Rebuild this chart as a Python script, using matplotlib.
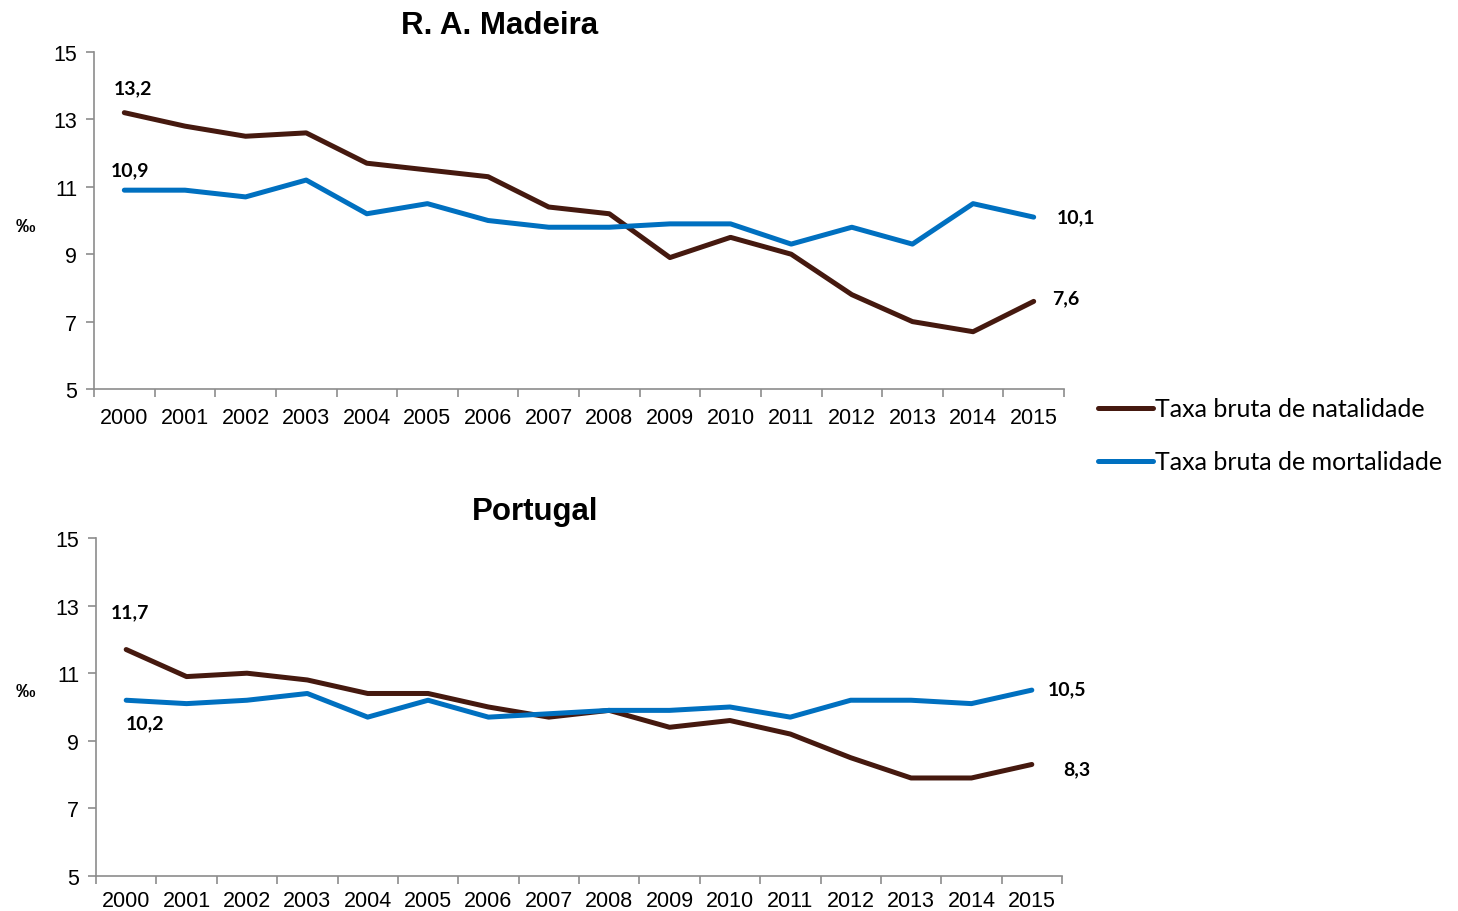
import numpy as np
import matplotlib
matplotlib.use('Agg')
import matplotlib.pyplot as plt
from matplotlib.lines import Line2D

# Data
years = ['2000', '2001', '2002', '2003', '2004', '2005', '2006', '2007',
         '2008', '2009', '2010', '2011', '2012', '2013', '2014', '2015']

madeira_natal = [13.2, 12.8, 12.5, 12.6, 11.7, 11.5, 11.3, 10.4,
                 10.2, 8.9, 9.5, 9.0, 7.8, 7.0, 6.7, 7.6]
madeira_mort = [10.9, 10.9, 10.7, 11.2, 10.2, 10.5, 10.0, 9.8,
                9.8, 9.9, 9.9, 9.3, 9.8, 9.3, 10.5, 10.1]

portugal_natal = [11.7, 10.9, 11.0, 10.8, 10.4, 10.4, 10.0, 9.7,
                  9.9, 9.4, 9.6, 9.2, 8.5, 7.9, 7.9, 8.3]
portugal_mort = [10.2, 10.1, 10.2, 10.4, 9.7, 10.2, 9.7, 9.8,
                 9.9, 9.9, 10.0, 9.7, 10.2, 10.2, 10.1, 10.5]

labels = ['Taxa bruta de natalidade', 'Taxa bruta de mortalidade']

BROWN = '#45190f'
BLUE = '#0070c0'
GRAY = '#8c8c8c'

plt.rcParams['font.family'] = ['Liberation Sans', 'DejaVu Sans']

fig = plt.figure(figsize=(14.58, 9.12), dpi=100)
ax1 = fig.add_axes([94 / 1458, 1 - 390 / 912, 970 / 1458, 337 / 912])
ax2 = fig.add_axes([96 / 1458, 1 - 877 / 912, 966 / 1458, 338 / 912])


def style_axis(ax, title, xpad):
    x = np.arange(len(years))
    ax.set_xlim(-0.5, len(years) - 0.5)
    ax.set_ylim(5, 15)
    ax.set_yticks([5, 7, 9, 11, 13, 15])
    ax.set_xticks(x)
    ax.set_xticklabels(years)
    ax.set_xticks(np.arange(-0.5, len(years), 1), minor=True)
    ax.tick_params(axis='x', which='major', length=0, pad=xpad, labelsize=15.5)
    ax.tick_params(axis='x', which='minor', length=6, color=GRAY, width=1.2)
    ax.tick_params(axis='y', length=6, color=GRAY, width=1.2, labelsize=15.5, pad=6)
    for s in ['top', 'right']:
        ax.spines[s].set_visible(False)
    for s in ['left', 'bottom']:
        ax.spines[s].set_color(GRAY)
        ax.spines[s].set_linewidth(1.2)
    ax.set_title(title, fontsize=22.5, fontweight='bold', pad=14)
    return x


lab_font = dict(fontsize=14, fontweight='bold', family=['Lato', 'DejaVu Sans'],
                ha='center', va='center', textcoords='offset pixels')

# Top: Madeira
x = style_axis(ax1, 'R. A. Madeira', 13)
ax1.title.set_position((0.418, 1))
ax1.plot(x, madeira_natal, color=BROWN, lw=3.6, solid_capstyle='round')
ax1.plot(x, madeira_mort, color=BLUE, lw=3.6, solid_capstyle='round')
ax1.annotate('13,2', (x[0], madeira_natal[0]), xytext=(9, 25), **lab_font)
ax1.annotate('10,9', (x[0], madeira_mort[0]), xytext=(6, 20), **lab_font)
ax1.annotate('10,1', (x[-1], madeira_mort[-1]), xytext=(42, 0), **lab_font)
ax1.annotate('7,6', (x[-1], madeira_natal[-1]), xytext=(32, 4), **lab_font)
fig.text(25 / 1458, 1 - 227 / 912, '‰', fontsize=14, fontweight='bold',
         ha='center', va='center')

# Bottom: Portugal
x = style_axis(ax2, 'Portugal', 10)
ax2.title.set_position((0.455, 1))
ax2.plot(x, portugal_natal, color=BROWN, lw=3.6, solid_capstyle='round')
ax2.plot(x, portugal_mort, color=BLUE, lw=3.6, solid_capstyle='round')
ax2.annotate('11,7', (x[0], portugal_natal[0]), xytext=(4, 38), **lab_font)
ax2.annotate('10,2', (x[0], portugal_mort[0]), xytext=(19, -23), **lab_font)
ax2.annotate('10,5', (x[-1], portugal_mort[-1]), xytext=(35, 1), **lab_font)
ax2.annotate('8,3', (x[-1], portugal_natal[-1]), xytext=(45, -4), **lab_font)
fig.text(25 / 1458, 1 - 693 / 912, '‰', fontsize=14, fontweight='bold',
         ha='center', va='center')

handles = [Line2D([], [], color=BROWN, lw=3.6, solid_capstyle='round'),
           Line2D([], [], color=BLUE, lw=3.6, solid_capstyle='round')]
fig.legend(handles, labels, loc='upper left',
           bbox_to_anchor=(1075 / 1458, 1 - 376 / 912),
           frameon=False, handlelength=2.2, handletextpad=0.1,
           labelspacing=1.2, prop={'family': ['Lato', 'DejaVu Sans'], 'size': 18})

fig.savefig('out.png', dpi=100)
